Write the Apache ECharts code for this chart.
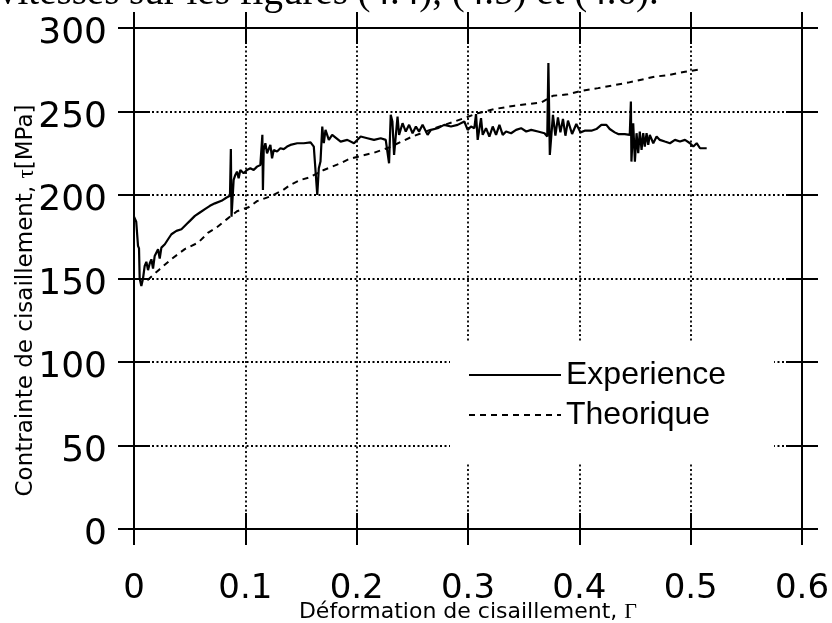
<!DOCTYPE html>
<html>
<head>
<meta charset="utf-8">
<script src="https://cdn.jsdelivr.net/npm/echarts@6/dist/echarts.min.js"></script>
<style>
html,body{margin:0;padding:0;background:#fff;}
#chart{width:832px;height:623px;}
</style>
</head>
<body>
<div id="chart"></div>
<script>
// Experimental curve (shear strain, shear stress MPa)
const expX = [0.000,0.002,0.0036,0.0045,0.0051,0.0066,0.0081,0.0096,0.0111,0.0126,0.0141,0.0156,0.0171,0.0186,0.0216,0.0231,0.0246,0.0277,0.0306,0.0336,0.0381,0.0426,0.0471,0.0502,0.0547,0.0592,0.0637,0.0682,0.0727,0.0786,0.0832,0.0862,
0.0870,0.0876,0.0895,0.0910,0.0925,0.0940,0.0955,0.0985,0.1015,0.1045,0.1075,0.1105,0.1135,0.1150,0.1153,0.1158,0.1165,0.1180,0.1195,0.1225,0.1240,0.1255,0.1285,0.1315,0.1345,0.1375,0.1405,0.1466,0.1525,0.1586,0.1615,0.1646,0.1660,0.1675,0.1691,0.1705,0.1720,0.1750,
0.1780,0.1856,0.1916,0.1976,0.2036,0.2096,0.2156,0.2216,0.2261,0.2291,0.2306,0.2321,0.2336,0.2367,0.2381,0.2412,0.2441,0.2471,0.2502,0.2532,0.2561,0.2592,0.2637,0.2667,0.2727,0.2786,0.2847,0.2907,0.2967,0.2997,0.3027,0.3057,
0.3072,0.3087,0.3117,0.3132,0.3162,0.3192,0.3222,0.3252,0.3282,0.3312,0.3342,0.3387,0.3432,0.3477,0.3523,0.3568,0.3628,0.3687,0.3712,0.3722,0.3735,0.3763,0.3785,0.3808,0.3830,0.3853,0.3875,0.3898,0.3935,0.3973,0.4010,0.4048,0.4108,
0.4153,0.4198,0.4243,0.4273,0.4318,0.4349,0.4408,0.4453,0.4463,0.4468,0.4484,0.4499,0.4514,0.4529,0.4543,0.4559,0.4574,0.4588,0.4604,0.4619,0.4633,0.4664,0.4694,0.4723,0.4768,0.4814,0.4859,0.4904,0.4949,0.4994,0.5024,0.5054,0.5084,0.5144];
const expY = [187,184,169.5,168,150,145.5,150,157.5,160,155,159,161.5,156,163.5,167.5,162,168.5,170.5,173.5,176.5,178.5,179.5,182.5,184.5,187.5,189.5,191.5,193.5,195,196.5,198.5,199.5,
227.5,187,209,212,214,210,215,213,215,216,215,217,218,218,236,203,227,231,225,230,222,227,226,228,227.5,229,230,231,231,231.5,229,200,216,220,241,231,239,233,
236,232,233,231,235,234,233,234,233,219,248,244,224,247,236,243,238,242,237,241,238,242,236,239,240,242,241,242,244,239,241,240,
248.5,233,246,236,240,235,241,236,242,236,238,237,239,240,238,239,238,237,235,279,224,248,235.5,246.5,237.5,245.5,235.5,244.5,236.5,242.5,237.5,238.5,238.5,
239.5,242,242,239.5,237.5,236.5,236.5,236,256,220,243,220,237,225,238,227,237,229,237,230,236,231,235,233,232,231,233,232,233,231,229,231,228,228];

// Theoretical curve
const theoX = [0.012,0.0231,0.0336,0.0456,0.0577,0.0667,0.0741,0.0832,0.0925,0.103,0.1105,0.1225,0.1331,0.1405,0.1495,0.157,0.1705,0.1781,0.1856,0.1931,0.2036,0.2156,0.2282,0.25,0.27,0.2987,0.3087,0.324,0.342,0.354,0.366,0.3763,0.3898,0.4018,0.4168,0.4288,0.4439,0.468,0.48,0.495,0.51];
const theoY = [149,155.6,161.6,167.6,171.5,177.5,180.5,185.4,190.3,192.7,196.3,199.2,202.6,206.1,209,210.4,215,217,219,221.5,223.4,225.3,228.2,235,240,246.5,249,251.5,253.5,254.5,255.4,259.4,260.3,262.3,264,265.5,267.3,270.9,271.8,273.8,275.3];

const seriesNames = ['Experience', 'Theorique'];
const xTickLabels = ['0','0.1','0.2','0.3','0.4','0.5','0.6'];
const yTickLabels = ['0','50','100','150','200','250','300'];
const xName = 'Déformation de cisaillement, ';
const yName = 'Contrainte de cisaillement, ';
const headerText = 'vitesses sur les figures (4.4), (4.5) et (4.6).';

const expData = expX.map((x, i) => [x, expY[i]]);
const theoData = theoX.map((x, i) => [x, theoY[i]]);

const black = '#000';
const tickStyle = {color: black, width: 2};
function xAx(pos, inside, extra) {
  return Object.assign({
    type: 'value', position: pos, min: 0, max: 0.6, interval: 0.1,
    axisLine: {show: false, onZero: false}, axisLabel: {show: false}, splitLine: {show: false},
    axisTick: {show: true, inside: inside, length: 16, lineStyle: tickStyle}
  }, extra || {});
}
function yAx(pos, inside, extra) {
  return Object.assign({
    type: 'value', position: pos, min: 0, max: 300, interval: 50,
    axisLine: {show: false, onZero: false}, axisLabel: {show: false}, splitLine: {show: false},
    axisTick: {show: true, inside: inside, length: 16, lineStyle: tickStyle}
  }, extra || {});
}
const solidLine = {show: true, onZero: false, lineStyle: {color: black, width: 2}};
const dotted = {show: true, lineStyle: {color: black, width: 1.8, type: [2, 2.5]}};

const chart = echarts.init(document.getElementById('chart'));
chart.setOption({
  animation: false,
  backgroundColor: '#fff',
  title: {
    text: headerText, left: -2, top: -26, padding: 0,
    textStyle: {fontSize: 39, fontFamily: 'Liberation Serif', fontWeight: 'normal', color: black}
  },
  grid: {left: 134, right: 30, top: 28, bottom: 94, containLabel: false, outerBoundsMode: 'none'},
  legend: {
    data: seriesNames, orient: 'vertical', left: 450, top: 343,
    padding: [14, 48, 30, 18], backgroundColor: '#fff',
    itemWidth: 92, itemHeight: 14, itemGap: 4,
    itemStyle: {opacity: 0},
    textStyle: {fontSize: 32, fontFamily: 'Liberation Sans', color: black, lineHeight: 36}
  },
  xAxis: [
    xAx('bottom', false, {
      axisLine: solidLine,
      axisLabel: {show: true, fontSize: 34, color: black, fontFamily: 'DejaVu Sans', margin: 43,
        formatter: v => xTickLabels[Math.round(v * 10)]},
      splitLine: dotted,
      name: xName + '{g|Γ}', nameLocation: 'middle', nameGap: 72, nameMoveOverlap: false,
      nameTextStyle: {fontSize: 22, color: black, fontFamily: 'DejaVu Sans',
        rich: {g: {fontSize: 22, fontFamily: 'Liberation Serif', color: black}}}
    }),
    xAx('bottom', true),
    xAx('top', false, {axisLine: solidLine}),
    xAx('top', true)
  ],
  yAxis: [
    yAx('left', false, {
      axisLine: solidLine,
      axisLabel: {show: true, fontSize: 36, color: black, fontFamily: 'DejaVu Sans', margin: 27,
        formatter: v => '{n|' + yTickLabels[Math.round(v / 50)] + '}',
        rich: {n: {fontSize: 36, fontFamily: 'DejaVu Sans', color: black, padding: [12, 0, 0, 0]}}},
      splitLine: dotted,
      name: yName + '{t|τ}[MPa]', nameLocation: 'middle', nameGap: 96, nameMoveOverlap: false,
      nameTextStyle: {fontSize: 23, color: black, fontFamily: 'DejaVu Sans', padding: [0, 44, 0, 0],
        rich: {t: {fontSize: 23, fontFamily: 'Liberation Serif', color: black}}}
    }),
    yAx('left', true),
    yAx('right', false, {axisLine: solidLine}),
    yAx('right', true)
  ],
  series: [
    {name: seriesNames[0], type: 'line', data: expData, symbol: 'none', showSymbol: false,
      lineStyle: {color: black, width: 2.2}, itemStyle: {color: black}, z: 3},
    {name: seriesNames[1], type: 'line', data: theoData, symbol: 'none', showSymbol: false,
      lineStyle: {color: black, width: 2, type: [6, 5]}, itemStyle: {color: black}, z: 2}
  ]
});
</script>
</body>
</html>
